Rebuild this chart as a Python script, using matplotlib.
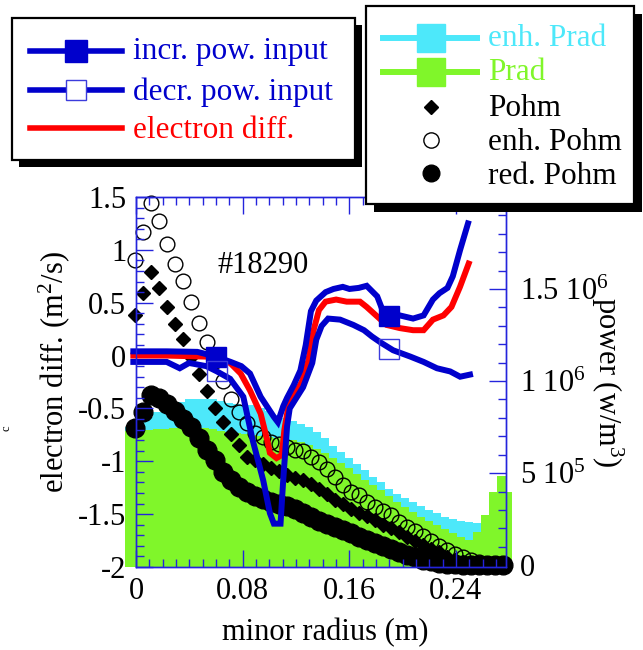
"""Electron diffusivity and power density profiles vs minor radius (#18290)."""

import numpy as np
import matplotlib
matplotlib.use("Agg")
import matplotlib.pyplot as plt
from matplotlib.patches import Rectangle
from matplotlib.ticker import MultipleLocator, FixedLocator, FuncFormatter

plt.rcParams["font.family"] = ["Liberation Serif", "DejaVu Serif"]
plt.rcParams["mathtext.fontset"] = "custom"
plt.rcParams["mathtext.rm"] = "Liberation Serif"
plt.rcParams["mathtext.it"] = "Liberation Serif:italic"
plt.rcParams["mathtext.default"] = "regular"
plt.rcParams["axes.unicode_minus"] = False

# --- data: electron diffusivity (left axis, m^2/s) ---
incr_r = [-0.002, 0.023, 0.046, 0.060, 0.071, 0.079, 0.0855, 0.0935, 0.1034, 0.1064,
          0.1104, 0.1133, 0.1183, 0.1233, 0.1273, 0.1312, 0.1352, 0.1422, 0.1481, 0.1551,
          0.1601, 0.167, 0.173, 0.1809, 0.1849, 0.1909, 0.1978, 0.2078, 0.2157, 0.2227,
          0.2276, 0.2336, 0.2376, 0.2431, 0.249]
incr_d = [0.04, 0.04, 0.035, -0.01, -0.06, -0.10, -0.17, -0.39, -0.58, -0.63,
          -0.48, -0.40, -0.28, -0.14, 0.10, 0.42, 0.52, 0.60, 0.63, 0.65,
          0.63, 0.64, 0.66, 0.56, 0.43, 0.37, 0.38, 0.35, 0.38, 0.53,
          0.59, 0.64, 0.75, 1.0, 1.25]

decr_r = [-0.002, 0.023, 0.0328, 0.0398, 0.0527, 0.0607, 0.0706, 0.0805, 0.0875, 0.0954,
          0.1004, 0.1034, 0.1084, 0.1104, 0.1133, 0.1153, 0.1203, 0.1253, 0.1322, 0.1352,
          0.1392, 0.1441, 0.1531, 0.163, 0.171, 0.177, 0.1839, 0.1929, 0.2058, 0.2157,
          0.2257, 0.2356, 0.2431, 0.2505]
decr_d = [-0.06, -0.06, -0.12, -0.07, -0.10, -0.15, -0.22, -0.39, -0.80, -1.18,
          -1.49, -1.59, -1.59, -1.18, -0.67, -0.50, -0.40, -0.30, -0.07, 0.15,
          0.28, 0.35, 0.34, 0.29, 0.24, 0.18, 0.12, 0.05, -0.01, -0.06,
          -0.12, -0.15, -0.20, -0.18]

diff_r = [-0.002, 0.023, 0.053, 0.0706, 0.0785, 0.0855, 0.0935, 0.0984, 0.1004, 0.1054,
          0.1094, 0.1113, 0.1143, 0.1193, 0.1243, 0.1292, 0.1332, 0.1372, 0.1422, 0.1501,
          0.158, 0.168, 0.173, 0.1809, 0.1879, 0.1978, 0.2078, 0.2157, 0.2227, 0.2306,
          0.2366, 0.243, 0.2495]
diff_d = [0.0, 0.0, -0.01, -0.07, -0.17, -0.33, -0.55, -0.80, -0.92, -0.97,
          -0.94, -0.70, -0.48, -0.36, -0.25, -0.05, 0.24, 0.43, 0.51, 0.53,
          0.51, 0.51, 0.46, 0.37, 0.29, 0.26, 0.24, 0.24, 0.34, 0.38,
          0.46, 0.65, 0.87]

incr_mark_r = [0.060, 0.190]
incr_mark_d = [-0.01, 0.37]
decr_mark_r = [0.061, 0.190]
decr_mark_d = [-0.15, 0.06]

# --- data: power densities (right axis, W/m^3) ---
pohm_r = [-0.001, 0.005, 0.011, 0.017, 0.023, 0.029, 0.035, 0.041, 0.047, 0.053,
          0.059, 0.065, 0.071, 0.077, 0.083, 0.089, 0.095, 0.101, 0.107, 0.113,
          0.119, 0.125, 0.131, 0.137, 0.143, 0.149, 0.155, 0.161, 0.167, 0.173,
          0.179, 0.185, 0.191, 0.197, 0.203, 0.209, 0.215, 0.221, 0.227, 0.233,
          0.239, 0.245, 0.251, 0.257, 0.263, 0.269, 0.275]
pohm = [1.358e6, 1.478e6, 1.594e6, 1.503e6, 1.40e6, 1.31e6, 1.23e6, 1.13e6, 1.04e6, 0.945e6,
        0.855e6, 0.775e6, 0.71e6, 0.654e6, 0.59e6, 0.57e6, 0.55e6, 0.53e6, 0.51e6, 0.49e6,
        0.475e6, 0.46e6, 0.44e6, 0.415e6, 0.385e6, 0.355e6, 0.33e6, 0.305e6, 0.285e6, 0.265e6,
        0.245e6, 0.22e6, 0.20e6, 0.18e6, 0.155e6, 0.13e6, 0.11e6, 0.09e6, 0.07e6, 0.045e6,
        0.03e6, 0.018e6, 0.01e6, 0.005e6, 0.002e6, 0.0, 0.0]
pohm_enh = [1.66e6, 1.81e6, 1.97e6, 1.87e6, 1.745e6, 1.635e6, 1.545e6, 1.43e6, 1.315e6, 1.21e6,
            1.107e6, 1.003e6, 0.905e6, 0.83e6, 0.77e6, 0.72e6, 0.695e6, 0.67e6, 0.657e6, 0.64e6,
            0.624e6, 0.62e6, 0.59e6, 0.56e6, 0.525e6, 0.48e6, 0.436e6, 0.40e6, 0.38e6, 0.344e6,
            0.316e6, 0.295e6, 0.275e6, 0.235e6, 0.21e6, 0.183e6, 0.158e6, 0.131e6, 0.106e6, 0.085e6,
            0.06e6, 0.044e6, 0.027e6, 0.016e6, 0.008e6, 0.003e6, 0.0]
pohm_red = [0.745e6, 0.83e6, 0.925e6, 0.91e6, 0.875e6, 0.836e6, 0.795e6, 0.75e6, 0.69e6, 0.628e6,
            0.57e6, 0.505e6, 0.462e6, 0.425e6, 0.395e6, 0.378e6, 0.36e6, 0.345e6, 0.333e6, 0.32e6,
            0.303e6, 0.285e6, 0.263e6, 0.242e6, 0.225e6, 0.209e6, 0.19e6, 0.172e6, 0.155e6, 0.138e6,
            0.122e6, 0.106e6, 0.09e6, 0.072e6, 0.056e6, 0.042e6, 0.03e6, 0.02e6, 0.014e6, 0.008e6,
            0.004e6, 0.002e6, 0.0, 0.0, 0.0, 0.0, 0.0]

prad_r = [-0.008, -0.002, 0.004, 0.010, 0.016, 0.022, 0.028, 0.034, 0.040, 0.046,
          0.052, 0.058, 0.064, 0.070, 0.076, 0.082, 0.088, 0.094, 0.100, 0.106,
          0.112, 0.118, 0.124, 0.130, 0.136, 0.142, 0.148, 0.154, 0.160, 0.166,
          0.172, 0.178, 0.184, 0.190, 0.196, 0.202, 0.208, 0.214, 0.220, 0.226,
          0.232, 0.238, 0.244, 0.250, 0.256, 0.262, 0.268, 0.274, 0.282]
prad_enh = [0.753e6, 0.763e6, 0.785e6, 0.807e6, 0.834e6, 0.856e6, 0.878e6, 0.889e6, 0.90e6, 0.905e6,
            0.905e6, 0.90e6, 0.894e6, 0.883e6, 0.878e6, 0.872e6, 0.872e6, 0.856e6, 0.84e6, 0.818e6,
            0.80e6, 0.785e6, 0.769e6, 0.753e6, 0.725e6, 0.693e6, 0.649e6, 0.616e6, 0.583e6, 0.551e6,
            0.518e6, 0.48e6, 0.453e6, 0.414e6, 0.387e6, 0.365e6, 0.344e6, 0.322e6, 0.30e6, 0.284e6,
            0.264e6, 0.251e6, 0.24e6, 0.234e6, 0.229e6, 0.24e6, 0.2e6, 0.2e6, 0.2e6]
prad = [0.727e6, 0.731e6, 0.733e6, 0.736e6, 0.739e6, 0.742e6, 0.744e6, 0.747e6, 0.747e6, 0.747e6,
        0.744e6, 0.739e6, 0.731e6, 0.725e6, 0.72e6, 0.714e6, 0.709e6, 0.703e6, 0.698e6, 0.693e6,
        0.687e6, 0.679e6, 0.671e6, 0.654e6, 0.633e6, 0.611e6, 0.583e6, 0.556e6, 0.529e6, 0.496e6,
        0.463e6, 0.436e6, 0.409e6, 0.376e6, 0.344e6, 0.316e6, 0.289e6, 0.262e6, 0.24e6, 0.218e6,
        0.196e6, 0.175e6, 0.153e6, 0.136e6, 0.18e6, 0.273e6, 0.40e6, 0.485e6, 0.40e6]

power_ticks = [0.0, 5e5, 1e6, 1.5e6]

# --- style ---
BLUE = "#0000cc"
LIGHT_BLUE = "#3c3cdc"
AXIS_BLUE = "#2424dc"
RED = "#ff0000"
CYAN = "#4de8fa"
GREEN = "#80f62a"
FS = 22
LEG_FS = 22.5

W, H = 643, 650
fig = plt.figure(figsize=(W / 100, H / 100), dpi=100)
ax = fig.add_axes([136 / W, 83 / H, 370 / W, 370 / H])
ax2 = ax.twinx()
ax.set_zorder(ax2.get_zorder() + 1)
ax.patch.set_visible(False)

# power profiles on the right axis
P_BOTTOM = -1.0e4
fill_enh = ax2.fill_between(prad_r, P_BOTTOM, prad_enh, step="mid", color=CYAN, lw=0)
fill_prad = ax2.fill_between(prad_r, P_BOTTOM, prad, step="mid", color=GREEN, lw=0)
for coll in (fill_enh, fill_prad):
    coll.set_clip_on(False)

ax2.plot(pohm_r, pohm_red, "o", ms=13.5, color="black", clip_on=False)
ax2.plot(pohm_r, pohm, "D", ms=7.5, color="black", clip_on=False)
ax2.plot(pohm_r, pohm_enh, "o", ms=10.6, mfc="none", mec="black", mew=1.0, clip_on=False)

# diffusivity profiles on the left axis
ax.plot(diff_r, diff_d, color=RED, lw=4.3, clip_on=False, solid_joinstyle="miter")
ax.plot(decr_r, decr_d, color=BLUE, lw=4.3, clip_on=False, solid_joinstyle="miter")
ax.plot(incr_r, incr_d, color=BLUE, lw=4.3, clip_on=False, solid_joinstyle="miter")
ax.plot(incr_mark_r, incr_mark_d, "s", ms=15, color=BLUE, clip_on=False)
ax.plot(decr_mark_r, decr_mark_d, "s", ms=15, mfc="none", mec=LIGHT_BLUE, mew=1.0,
        clip_on=False)

ax.text(0.343, 0.816, "#18290", transform=ax.transAxes, fontsize=FS,
        ha="center", va="center")

# axes and ticks
ax.set_xlim(0, 0.2775)
ax.set_ylim(-2, 1.5)
ax2.set_ylim(P_BOTTOM, 2.0e6)

ax.xaxis.set_major_locator(MultipleLocator(0.08))
ax.xaxis.set_minor_locator(MultipleLocator(0.01))
ax.yaxis.set_major_locator(MultipleLocator(0.5))
ax.yaxis.set_minor_locator(MultipleLocator(0.1))
ax2.yaxis.set_major_locator(FixedLocator(power_ticks))
ax2.yaxis.set_minor_locator(MultipleLocator(1e5))

ax.xaxis.set_major_formatter(FuncFormatter(lambda v, p: f"{v:g}"))
ax.yaxis.set_major_formatter(FuncFormatter(lambda v, p: f"{v:g}"))


def power_label(v, pos):
    if abs(v) < 1:
        return "0"
    exp = int(np.floor(np.log10(abs(v))))
    mant = v / 10 ** exp
    return f"{mant:g} 10$^{{{exp}}}$"


ax2.yaxis.set_major_formatter(FuncFormatter(power_label))

ax.tick_params(axis="x", which="both", direction="in", top=True, bottom=True,
               color=AXIS_BLUE, labelsize=FS, pad=7)
ax.tick_params(axis="y", which="both", direction="in", left=True, right=False,
               color=AXIS_BLUE, labelsize=FS, pad=7)
ax2.tick_params(axis="y", which="both", direction="in", left=False, right=True,
                color=AXIS_BLUE, labelsize=FS, pad=10)
for a in (ax, ax2):
    a.tick_params(which="major", length=12, width=1)
    a.tick_params(which="minor", length=6, width=1)
    for spine in a.spines.values():
        spine.set_color(AXIS_BLUE)
        spine.set_linewidth(1.0)

fig.text(54 / W, 1 - 372 / H, "electron diff. (m$^2$/s)", rotation=90,
         fontsize=FS, ha="center", va="center")
fig.text(607 / W, 1 - 382 / H, "power (w/m$^3$)", rotation=-90,
         fontsize=FS, ha="center", va="center")
fig.text(325 / W, 1 - 633 / H, "minor radius (m)", fontsize=FS,
         ha="center", va="center")
fig.text(6 / W, 1 - 428 / H, "c", rotation=90, fontsize=9, ha="center", va="center")

# --- legends, drawn in figure pixel coordinates ---
lax = fig.add_axes([0, 0, 1, 1], zorder=10)
lax.set_xlim(0, W)
lax.set_ylim(H, 0)
lax.axis("off")


def legend_box(x0, y0, x1, y1, shadow):
    lax.add_patch(Rectangle((x0 + shadow, y0 + shadow), x1 - x0, y1 - y0,
                            facecolor="black", edgecolor="none"))
    lax.add_patch(Rectangle((x0, y0), x1 - x0, y1 - y0,
                            facecolor="white", edgecolor="black", lw=1.6))


legend_box(12, 18, 355, 160, 7)
lax.plot([30, 122], [51, 51], color=BLUE, lw=4)
lax.plot([76], [51], "s", ms=16, color=BLUE)
lax.plot([30, 122], [90, 90], color=BLUE, lw=4)
lax.plot([76], [90], "s", ms=15, mfc="white", mec=LIGHT_BLUE, mew=1.0)
lax.plot([30, 122], [128, 128], color=RED, lw=4)
lax.text(133, 52, "incr. pow. input", color=BLUE, fontsize=LEG_FS, va="center")
lax.text(133, 92, "decr. pow. input", color=BLUE, fontsize=LEG_FS, va="center")
lax.text(133, 131, "electron diff.", color=RED, fontsize=LEG_FS, va="center")

legend_box(366, 6, 634, 204, 8)
lax.plot([383, 477], [38, 38], color=CYAN, lw=4.3)
lax.plot([431], [38], "s", ms=20, color=CYAN)
lax.plot([383, 477], [72, 72], color=GREEN, lw=4.3)
lax.plot([431], [72], "s", ms=20, color=GREEN)
lax.plot([431], [107], "D", ms=7.5, color="black")
lax.plot([431], [140], "o", ms=11, mfc="white", mec="black", mew=1.0)
lax.plot([431], [173], "o", ms=12, color="black")
lax.text(488, 39, "enh. Prad", color=CYAN, fontsize=LEG_FS, va="center")
lax.text(488, 73, "Prad", color=GREEN, fontsize=LEG_FS, va="center")
lax.text(488, 108, "Pohm", color="black", fontsize=LEG_FS, va="center")
lax.text(488, 142, "enh. Pohm", color="black", fontsize=LEG_FS, va="center")
lax.text(488, 176, "red. Pohm", color="black", fontsize=LEG_FS, va="center")

fig.savefig("out.png", dpi=100, facecolor="white")
